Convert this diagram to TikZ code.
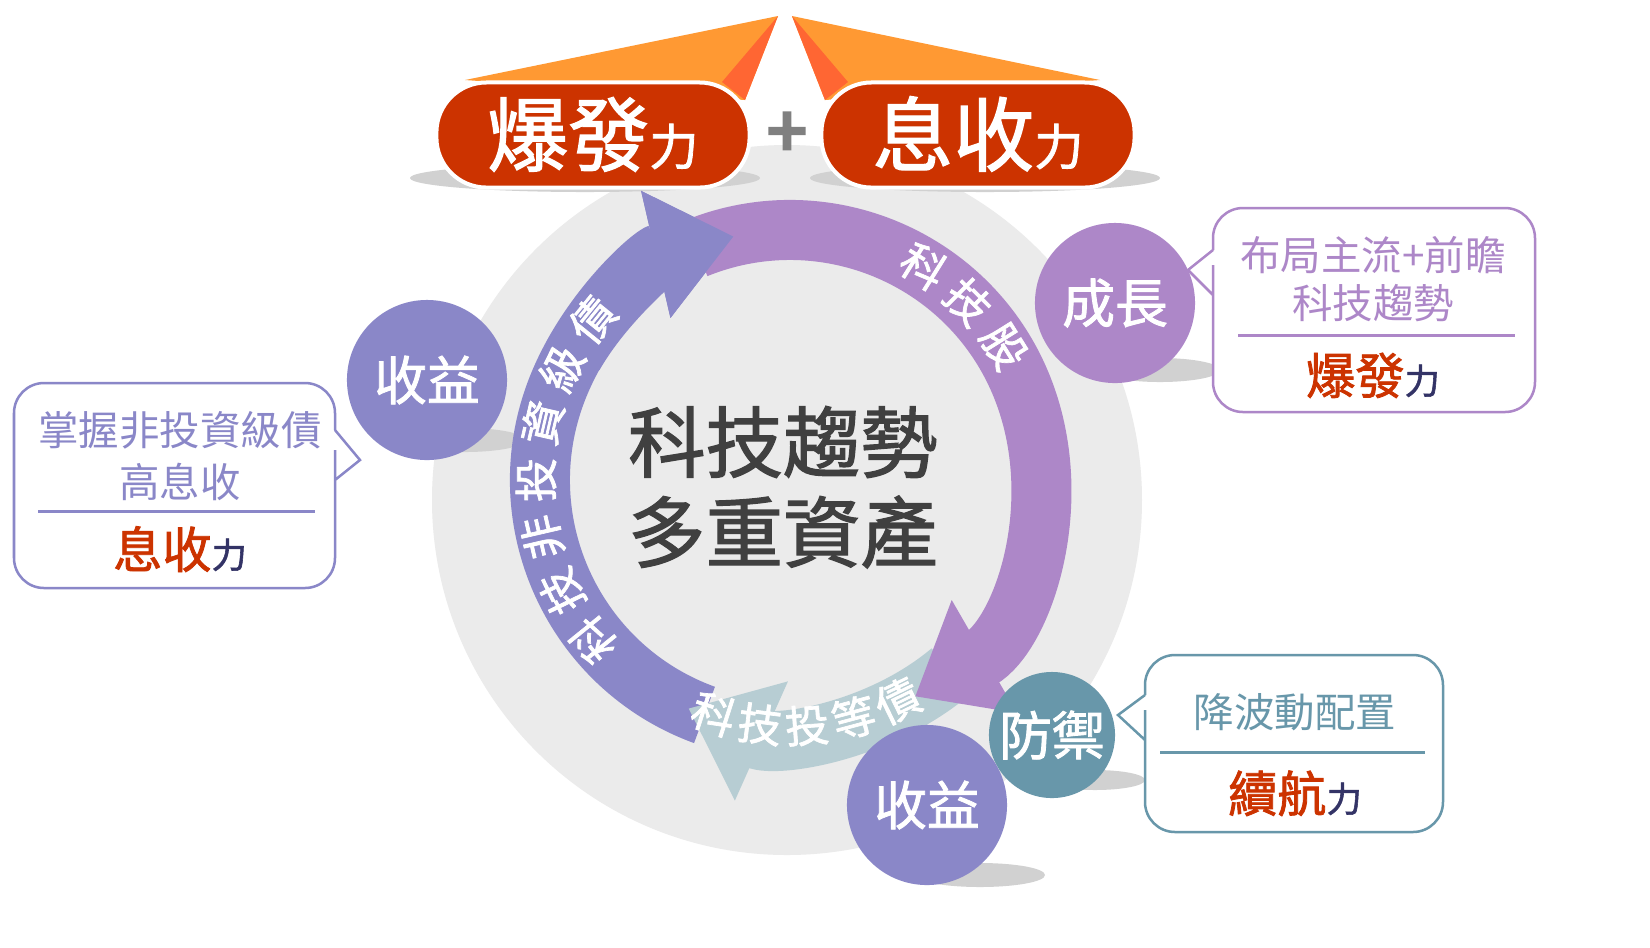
\documentclass[tikz,border=0pt]{standalone}
\usepackage{fontspec}
\newfontfamily\cjk{Noto Sans CJK TC}
\newfontfamily\cjkb{Noto Sans CJK TC}[FakeBold=1.6]
\newfontfamily\cjkbb{Noto Sans CJK TC}[FakeBold=5]
\usetikzlibrary{arrows.meta,shapes.geometric}
\definecolor{cpur}{HTML}{AD87C8}
\definecolor{cblu}{HTML}{8A87C8}
\definecolor{clig}{HTML}{B7CDD3}
\definecolor{cdef}{HTML}{6897AA}
\definecolor{cred}{HTML}{CC3300}
\definecolor{cora}{HTML}{FF9933}
\definecolor{cor2}{HTML}{FF6633}
\definecolor{cdark}{HTML}{333366}
\definecolor{ctxt}{HTML}{404040}
\tikzset{
  bub/.style={circle,minimum size=#1,inner sep=0pt,text=white,font=\cjkb\fontsize{15}{17}\selectfont},
  shad/.style={fill=black!18,draw=none},
  ringtxt/.style={text=white,font=\cjkb\fontsize{12.5}{13}\selectfont,inner sep=0pt},
  cotxt/.style={font=\cjk\fontsize{11.5}{13}\selectfont,inner sep=0pt},
  bigt/.style={font=\cjkb\fontsize{14}{15}\selectfont,text=cred,inner sep=0pt},
  topbox/.style={fill=cred,draw=white,line width=0.04cm,rounded corners=0.5cm,minimum width=3.13cm,minimum height=1.05cm,text=white}
}
\begin{document}
\begin{tikzpicture}[x=0.01cm,y=-0.01cm]
\useasboundingbox (0,0) rectangle (1650,947);
\fill[white] (0,0) rectangle (1650,947);
% background circle
\fill[black!8] (787,500) circle[radius=355];
% shadows
\fill[shad] (585,178) ellipse[x radius=175,y radius=14];
\fill[shad] (985,178) ellipse[x radius=175,y radius=14];
\fill[shad] (465,440) ellipse[x radius=60,y radius=12];
\fill[shad] (1160,370) ellipse[x radius=60,y radius=12];
\fill[shad] (1095,780) ellipse[x radius=50,y radius=10];
\fill[shad] (980,875) ellipse[x radius=65,y radius=12];
% ring
\begin{scope}[shift={(790,480)},x=0.01cm,y=0.01cm]
\draw[line width=0.6cm,cblu,-{Triangle[width=1.25cm,length=0.8cm]}] (-110:250) arc[start angle=-110,end angle=-257,radius=250];
\draw[line width=0.6cm,clig,-{Triangle[width=1.25cm,length=0.8cm]}] (-50:250) arc[start angle=-50,end angle=-114,radius=250];
\draw[line width=0.6cm,cpur,-{Triangle[width=1.25cm,length=0.8cm]}] (112:250) arc[start angle=112,end angle=-60,radius=250];
\draw[line width=0.6cm,cblu,-{Triangle[width=1.25cm,length=0.8cm]}] (150:250) arc[start angle=150,end angle=103,radius=250];
\foreach \c/\a [count=\i] in {科/58,技/45,股/32}
  \node[ringtxt,rotate=\a-90] (rs\i) at (\a:252) {\c};
\foreach \c/\a [count=\i] in {科/219,技/206,非/193,投/180,資/167,級/154,債/141}
  \node[ringtxt,rotate=\a-90] (rn\i) at (\a:254) {\c};
\foreach \c/\a [count=\i] in {科/-108,技/-97,投/-86,等/-75,債/-64}
  \node[ringtxt,rotate=\a+90] (rb\i) at (\a:246) {\c};
\end{scope}
% center text
\node[font=\cjkb\fontsize{22}{26}\selectfont,text=ctxt] (c1) at (783,442) {科技趨勢};
\node[font=\cjkb\fontsize{22}{26}\selectfont,text=ctxt] (c2) at (783,532) {多重資產};
% orange top
\fill[cora] (465,80) -- (778,16) -- (745,100) -- cycle;
\fill[cor2] (778,16) -- (745,100) -- (722,82) -- cycle;
\fill[cora] (1100,80) -- (792,16) -- (825,100) -- cycle;
\fill[cor2] (792,16) -- (825,100) -- (848,82) -- cycle;
% top boxes
\node[topbox] (tl) at (593,135) {};
\node[topbox] (tr) at (978,135) {};
\node[text=white,font=\cjkb\fontsize{23}{26}\selectfont,anchor=base] (tlt) at (593,165) {爆發{\fontsize{14}{16}\selectfont 力}};
\node[text=white,font=\cjkb\fontsize{23}{26}\selectfont,anchor=base] (trt) at (978,165) {息收{\fontsize{14}{16}\selectfont 力}};
\node[text=black!50,font=\cjkbb\fontsize{20}{22}\selectfont] (plus) at (787,135) {+};
% bubbles
\node[bub=1.6cm,fill=cblu] (b1) at (427,380) {收益};
\node[bub=1.6cm,fill=cpur] (b2) at (1115,303) {成長};
\node[bub=1.26cm,fill=cdef] (b3) at (1052,735) {防禦};
\node[bub=1.6cm,fill=cblu] (b4) at (927,805) {收益};
% callouts
\draw[cblu,line width=0.025cm,fill=white,rounded corners=0.3cm] (335,430) -- (335,383) -- (14,383) -- (14,588) -- (335,588) -- (335,480) [sharp corners] -- (335,480) -- (360,460) -- (335,430);
\node[cotxt,text=cblu] (l1) at (180,430) {掌握非投資級債};
\node[cotxt,text=cblu] (l2) at (180,482) {高息收};
\draw[cblu,line width=0.03cm] (38,511) -- (315,511);
\node[bigt,anchor=base] (l3) at (180,568) {息收{\fontsize{10}{12}\selectfont\color{cdark}力}};
\draw[cpur,line width=0.025cm,fill=white,rounded corners=0.3cm] (1213,250) -- (1213,208) -- (1535,208) -- (1535,412) -- (1213,412) -- (1213,295) [sharp corners] -- (1213,295) -- (1188,270) -- (1213,250);
\node[cotxt,text=cpur] (r1) at (1373,255) {布局主流+前瞻};
\node[cotxt,text=cpur] (r2) at (1373,303) {科技趨勢};
\draw[cpur,line width=0.03cm] (1238,335) -- (1515,335);
\node[bigt,anchor=base] (r3) at (1373,394) {爆發{\fontsize{10}{12}\selectfont\color{cdark}力}};
\draw[cdef,line width=0.025cm,fill=white,rounded corners=0.3cm] (1145,695) -- (1145,655) -- (1443,655) -- (1443,832) -- (1145,832) -- (1145,740) [sharp corners] -- (1145,740) -- (1118,715) -- (1145,695);
\node[cotxt,text=cdef] (d1) at (1295,712) {降波動配置};
\draw[cdef,line width=0.03cm] (1160,752) -- (1425,752);
\node[bigt,anchor=base] (d2) at (1295,812) {續航{\fontsize{10}{12}\selectfont\color{cdark}力}};
\end{tikzpicture}
\end{document}
